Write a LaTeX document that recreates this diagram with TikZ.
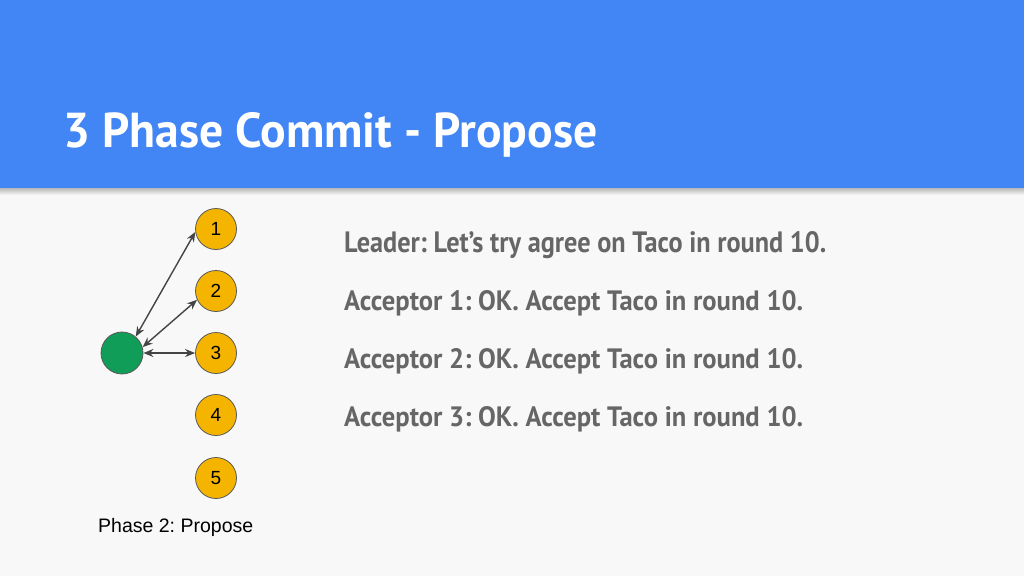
\documentclass[tikz,border=0pt]{standalone}
\usepackage{fontspec}
\setmainfont{Liberation Sans}
\newfontfamily\condfont{PT Sans}
\usetikzlibrary{arrows.meta}
\frenchspacing
\definecolor{bgc}{HTML}{F8F8F8}
\definecolor{hdr}{HTML}{4285F4}
\definecolor{yel}{HTML}{F4B400}
\definecolor{grn}{HTML}{0F9D58}
\definecolor{edge}{HTML}{595959}
\definecolor{txtg}{HTML}{666666}
\definecolor{arr}{HTML}{444444}
\tikzset{
  member/.style={circle, draw=edge, line width=0.8pt, fill=yel, minimum size=41pt, inner sep=0pt, font=\fontsize{19}{19}\selectfont},
  leadernode/.style={circle, draw=edge, line width=0.8pt, fill=grn, minimum size=42pt, inner sep=0pt},
  link/.style={draw=arr, line width=1.4pt, {Stealth[length=10pt,width=8pt]}-{Stealth[length=10pt,width=8pt]}},
  msg/.style={anchor=base west, inner sep=0pt, text=txtg, font=\condfont\bfseries},
}
\begin{document}
\begin{tikzpicture}[x=1pt,y=-1pt]
\useasboundingbox (0,0) rectangle (1024,576);
\fill[bgc] (0,0) rectangle (1024,576);
% header shadow
\shade[top color=black!35, bottom color=bgc] (0,186) rectangle (1024,195);
\fill[hdr] (0,0) rectangle (1024,188);
\node[anchor=base west, inner sep=0pt, text=white, font=\condfont\bfseries] (title) at (63,147) {\resizebox{534pt}{35pt}{3 Phase Commit - Propose}};
% nodes
\node[leadernode] (g) at (122,353) {};
\node[member] (n1) at (216,229) {1};
\node[member] (n2) at (216,291) {2};
\node[member] (n3) at (216,353) {3};
\node[member] (n4) at (216,415) {4};
\node[member] (n5) at (216,478) {5};
\draw[link] (g.50) -- (n1.188);
\draw[link] (g.16) -- (n2.205);
\draw[link] (g.east) -- (n3.west);
\node[anchor=base west, inner sep=0pt, font=\fontsize{19.5}{20}\selectfont] (cap) at (98,532) {Phase 2: Propose};
% messages
\node[msg] (m0) at (344,252) {\resizebox{482pt}{21pt}{Leader: Let’s try agree on Taco in round 10.}};
\node[msg] (m1) at (344,310) {\resizebox{459pt}{20pt}{Acceptor 1: OK. Accept Taco in round 10.}};
\node[msg] (m2) at (344,368) {\resizebox{459pt}{20pt}{Acceptor 2: OK. Accept Taco in round 10.}};
\node[msg] (m3) at (344,426) {\resizebox{459pt}{20pt}{Acceptor 3: OK. Accept Taco in round 10.}};
\end{tikzpicture}
\end{document}
